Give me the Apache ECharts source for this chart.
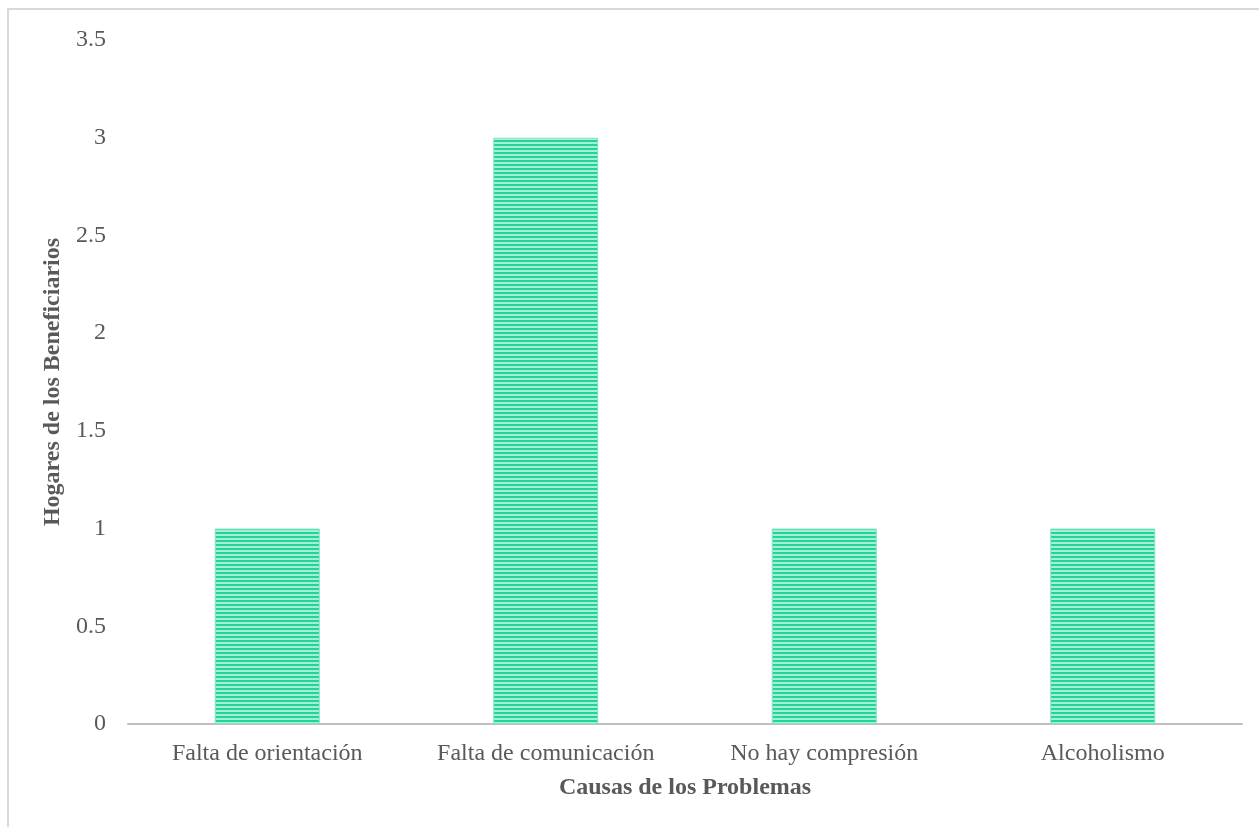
<!DOCTYPE html>
<html><head><meta charset="utf-8">
<script src="https://cdn.jsdelivr.net/npm/echarts@6/dist/echarts.min.js"></script>
<style>html,body{margin:0;padding:0;background:#fff}#c{width:1259px;height:827px}</style>
</head><body><div id="c"></div>
<script>
const categories = ['Falta de orientación','Falta de comunicación','No hay compresión','Alcoholismo'];
const values = [1,3,1,1];
const yTicks = {min:0,max:3.5,interval:0.5};

const pc = document.createElement('canvas');
pc.width = 8; pc.height = 4;
const ctx = pc.getContext('2d');
ctx.fillStyle = '#20d49a'; ctx.fillRect(0,0,8,2);
ctx.fillStyle = '#a6eed4'; ctx.fillRect(0,2,8,2);

const chart = echarts.init(document.getElementById('c'));
const font = 'Liberation Serif';
chart.setOption({
  animation:false,
  graphic:[{type:'rect',shape:{x:8,y:9,width:1300,height:900},style:{fill:'none',stroke:'#d9d9d9',lineWidth:2},silent:true}],
  grid:{left:128,right:17,top:40,bottom:103},
  xAxis:{type:'category',data:categories,
    axisLine:{lineStyle:{color:'#bfbfbf',width:2}},axisTick:{show:false},
    axisLabel:{interval:0,fontFamily:font,fontSize:24,color:'#595959',margin:18},
    name:'Causas de los Problemas',nameLocation:'middle',nameGap:52,
    nameTextStyle:{fontFamily:font,fontSize:24,fontWeight:'bold',color:'#595959'}},
  yAxis:{type:'value',min:yTicks.min,max:yTicks.max,interval:yTicks.interval,
    splitLine:{show:false},axisLine:{show:false},axisTick:{show:false},
    axisLabel:{fontFamily:font,fontSize:24,color:'#595959',margin:22},
    name:'Hogares de los Beneficiarios',nameLocation:'middle',nameGap:61,
    nameTextStyle:{fontFamily:font,fontSize:24,fontWeight:'bold',color:'#595959'}},
  series:[{type:'bar',data:values,barWidth:105,
    itemStyle:{color:{image:pc,repeat:'repeat'},borderColor:'#7fe6c1',borderWidth:1}}]
});
</script></body></html>
